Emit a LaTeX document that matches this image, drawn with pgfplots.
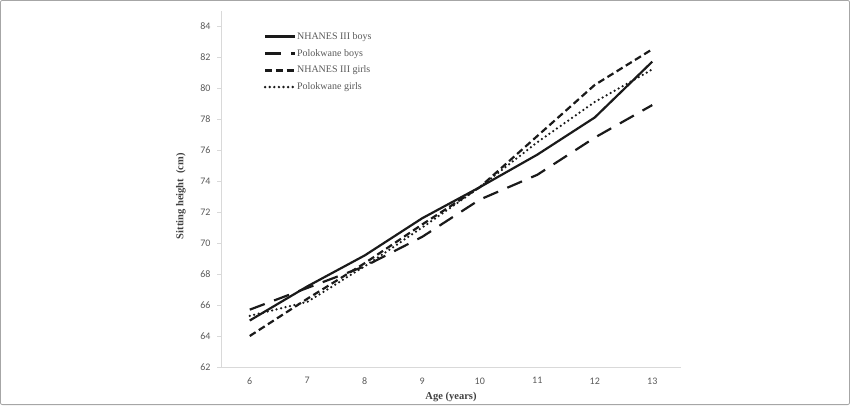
\documentclass[border=0pt]{standalone}
\usepackage{fontspec}
\setmainfont{Liberation Serif}
\newfontfamily\carlito{Carlito}
\usepackage{pgfplots}
\pgfplotsset{compat=1.18}

\definecolor{txtgray}{HTML}{595959}
\definecolor{lblgray}{HTML}{404040}
\definecolor{axgray}{HTML}{D9D9D9}
\definecolor{ink}{HTML}{1A1A1A}

\begin{document}
\begin{tikzpicture}
\useasboundingbox (0,0) rectangle (850pt,405pt);
\draw[gray!70, line width=0.8pt, rounded corners=2pt] (0.4pt,0.4pt) rectangle (849.6pt,404.6pt);
\begin{axis}[
    at={(221pt,38pt)}, anchor=south west,
    scale only axis,
    width=460pt, height=356pt,
    xmin=5.5, xmax=13.5,
    ymin=62, ymax=84.97,
    xtick={6,...,13},
    ytick={62,64,...,84},
    axis x line=bottom, axis y line=left,
    axis line style={draw=axgray, line width=0.9pt, -},
    tick align=outside,
    major tick length=4pt,
    ytick style={draw=axgray, line width=0.9pt},
    xtick style={draw=none},
    /pgf/number format/assume math mode=true,
    ticklabel style={font=\carlito\fontsize{10}{12}\selectfont, text=txtgray},
    yticklabel style={xshift=-3pt},
    xticklabel style={yshift=-3pt},
    xlabel={Age (years)},
    ylabel={Sitting height\ \ (cm)},
    xlabel style={at={(axis description cs:0.5,-0.084)}, anchor=center,
        font=\bfseries\fontsize{10.5}{12}\selectfont, text=lblgray},
    ylabel style={at={(axis description cs:-0.087,0.48)}, anchor=center, rotate=0,
        font=\bfseries\fontsize{10.5}{12}\selectfont, text=lblgray},
    legend style={at={(axis description cs:0.086,0.948)}, anchor=north west,
        draw=none, fill=none, font=\fontsize{10}{12}\selectfont, text=txtgray,
        row sep=7.2pt, nodes={inner sep=0.6pt}},
    legend cell align=left,
    legend image code/.code={\draw[line width=2.7pt,#1] (0pt,0pt) -- (30pt,0pt);},
    every axis plot/.append style={ink, line width=2.2pt, mark=none},
]
\addplot[solid] coordinates {
    (6,65.0) (7,67.2) (8,69.2) (9,71.6) (10,73.6) (11,75.7) (12,78.1) (13,81.7)};
\addplot[dash pattern=on 16pt off 10pt] coordinates {
    (6,65.7) (7,67.1) (8,68.5) (9,70.4) (10,72.8) (11,74.4) (12,76.8) (13,78.9)};
\addplot[dash pattern=on 7pt off 3.8pt] coordinates {
    (6,64.0) (7,66.4) (8,68.7) (9,71.2) (10,73.6) (11,76.9) (12,80.2) (13,82.5)};
\addplot[line width=2.5pt, line cap=round, dash pattern=on 0pt off 4.6pt] coordinates {
    (6,65.3) (7,66.2) (8,68.5) (9,71.0) (10,73.6) (11,76.5) (12,79.1) (13,81.2)};
\legend{NHANES III boys, Polokwane boys, NHANES III girls, Polokwane girls}
\end{axis}
\end{tikzpicture}
\end{document}
